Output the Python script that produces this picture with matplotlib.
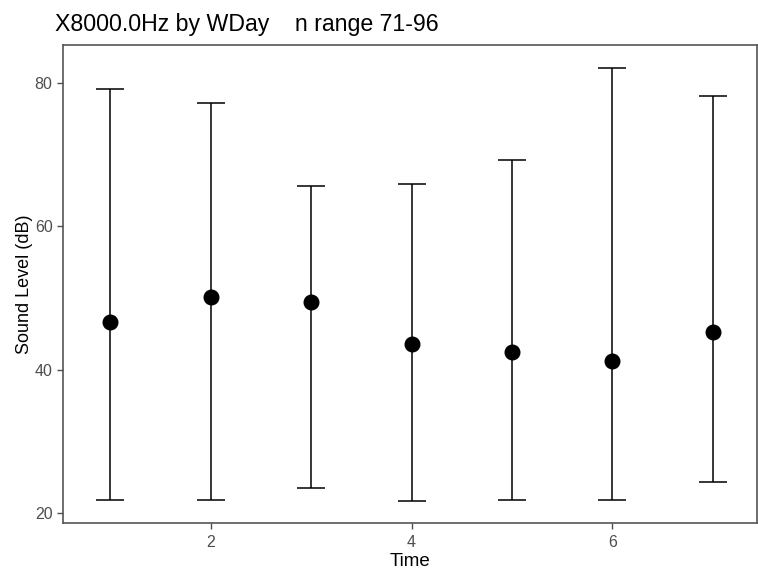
import matplotlib
matplotlib.use("Agg")
import matplotlib.pyplot as plt

time = [1, 2, 3, 4, 5, 6, 7]
mean_db = [46.6, 50.2, 49.4, 43.55, 42.5, 41.2, 45.2]
lower_db = [21.85, 21.85, 23.5, 21.7, 21.85, 21.85, 24.35]
upper_db = [79.1, 77.1, 65.6, 65.9, 69.2, 82.05, 78.2]
xticks = [2, 4, 6]
yticks = [20, 40, 60, 80]

plt.rcParams['font.family'] = ['Liberation Sans', 'DejaVu Sans']

fig = plt.figure(figsize=(7.58, 5.70), dpi=100)
ax = fig.add_axes([63/758, 47.3/570, 694/758, 477.7/570])

yerr_lo = [m - l for m, l in zip(mean_db, lower_db)]
yerr_hi = [u - m for m, u in zip(mean_db, upper_db)]
ax.errorbar(time, mean_db, yerr=[yerr_lo, yerr_hi], fmt='none', ecolor='black',
            elinewidth=1.1, capsize=10, capthick=1.1, zorder=2)
ax.plot(time, mean_db, 'o', color='black', markersize=10.5, zorder=3)

ax.set_xlim(0.53, 7.44)
ax.set_ylim(18.69, 85.25)
ax.set_xticks(xticks)
ax.set_yticks(yticks)
ax.tick_params(axis='both', colors='#4D4D4D', labelsize=11.5, length=4, width=1, direction='out')
ax.tick_params(axis='x', pad=5)
for s in ax.spines.values():
    s.set_color('#555555')
    s.set_linewidth(1.2)

ax.set_xlabel('Time', fontsize=13.5, labelpad=2)
ax.set_ylabel('Sound Level (dB)', fontsize=13, labelpad=1.5)
fig.text(55/758, 1 - 25/570, 'X8000.0Hz by WDay    n range 71-96', fontsize=16.7,
         ha='left', va='center', color='black')

fig.savefig('out.png', dpi=100)
